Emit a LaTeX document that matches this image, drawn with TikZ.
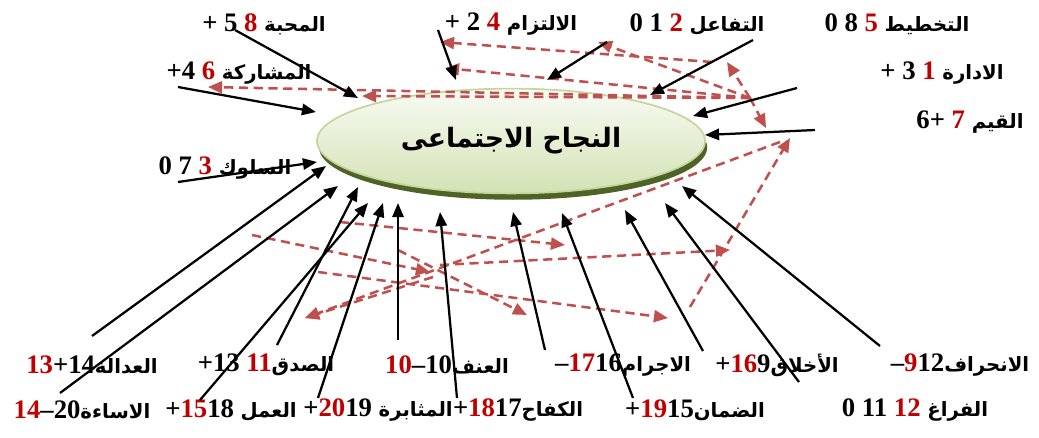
\documentclass[tikz,border=0pt]{standalone}
\usepackage{fontspec}
\setmainfont{Liberation Serif}
\newfontfamily\arfont[Script=Arabic]{DejaVu Sans}
\TeXXeTstate=1
\usetikzlibrary{positioning,arrows.meta,shapes.geometric,shadows}
\definecolor{numred}{HTML}{C00000}
\definecolor{dashred}{HTML}{C0504D}
\definecolor{lightgreen}{HTML}{C3D69B}
\definecolor{palegreen}{HTML}{D3E2B4}
\definecolor{olivedark}{HTML}{4F6228}
\newcommand{\arw}[1]{{\arfont\bfseries\fontsize{14}{16}\selectfont\beginR #1\endR}}
\newcommand{\rd}[1]{\textcolor{numred}{#1}}

\begin{document}
\begin{tikzpicture}[x=0.025cm,y=-0.025cm,
  lbl/.style={inner sep=0pt, font=\bfseries\fontsize{19}{22}\selectfont},
  blk/.style={line width=1.6pt, -{Triangle[length=10pt,width=8pt]}},
  rdd/.style={draw=dashred, line width=1.8pt, dash pattern=on 6.5pt off 4pt, -{Triangle[length=10pt,width=8.5pt]}}]
  \useasboundingbox (0,0) rectangle (1039,437);

  \node[ellipse, draw=lightgreen, line width=1.2pt, top color=white!85!palegreen, bottom color=palegreen,
    minimum width=9.7cm, minimum height=2.62cm,
    drop shadow={shadow xshift=1.5pt, shadow yshift=-4.5pt, fill=olivedark, opacity=1}]
    (goal) at (511,141) {\arfont\bfseries\fontsize{19}{22}\selectfont\beginR النجاح الاجتماعى\endR};

  \node[lbl] (lblMahaba) at (264,24) {+ 5 \rd{8} \arw{المحبة}};
  \node[lbl] (lblIltizam) at (511,24) {+ 2 \rd{4} \arw{الالتزام}};
  \node[lbl] (lblTafaul) at (697,24) {0 1 \rd{2} \arw{التفاعل}};
  \node[lbl] (lblTakhtit) at (897,24) {0 8 \rd{5} \arw{التخطيط}};
  \node[lbl] (lblMusharaka) at (239,73) {+4 \rd{6} \arw{المشاركة}};
  \node[lbl] (lblIdara) at (942,73) {+ 3 \rd{1} \arw{الادارة}};
  \node[lbl] (lblQiyam) at (970,122) {6+ \rd{7} \arw{القيم}};
  \node[lbl] (lblSuluk) at (225,168) {0 7 \rd{3} \arw{السلوك}};

  \node[lbl] (lblAdala) at (92,365) {\rd{13}+14\arw{العدالة}};
  \node[lbl] (lblSidq) at (266,365) {+13 \rd{11}\arw{الصدق}};
  \node[lbl] (lblUnf) at (447,365) {\rd{10}--10\arw{العنف}};
  \node[lbl] (lblIjram) at (623,365) {--\rd{17}16\arw{الاجرام}};
  \node[lbl] (lblAkhlaq) at (777,365) {+\rd{16}9\arw{الأخلاق}};
  \node[lbl] (lblInhiraf) at (960,365) {--\rd{9}12\arw{الانحراف}};
  \node[lbl] (lblIsaa) at (82,410) {\rd{14}--20\arw{الاساءة}};
  \node[lbl] (lblAmal) at (231,410) {+\rd{15}18 \arw{العمل}};
  \node[lbl] (lblMuthabara) at (378,410) {+\rd{20}19 \arw{المثابرة}};
  \node[lbl] (lblKifah) at (518,410) {+\rd{18}17\arw{الكفاح}};
  \node[lbl] (lblDaman) at (695,410) {+\rd{19}15\arw{الضمان}};
  \node[lbl] (lblFaragh) at (915,410) {0 11 \rd{12} \arw{الفراغ}};

  \coordinate (hub) at (750,98);
  \coordinate (hTopA) at (440,42);
  \coordinate (hTopB) at (445,68);
  \coordinate (hTopC) at (208,87);
  \coordinate (hTopD) at (598,42);
  \coordinate (hTopE) at (727,62);
  \coordinate (hTopF) at (766,128);
  \coordinate (hTopG) at (362,96);
  \coordinate (tTopA) at (712,62);
  \draw[rdd] (tTopA) -- (hTopA);
  \draw[rdd] (hub) -- (hTopB);
  \draw[rdd] (hub) -- (hTopC);
  \draw[rdd] (hub) -- (hTopD);
  \draw[rdd] (hub) -- (hTopE);
  \draw[rdd] (hub) -- (hTopF);
  \draw[rdd] (hub) -- (hTopG);

  \coordinate (tLowA) at (252,235);
  \coordinate (hLowA) at (430,272);
  \coordinate (tLowB) at (340,222);
  \coordinate (hLowB) at (565,245);
  \coordinate (tLowC) at (398,250);
  \coordinate (hLowC) at (527,315);
  \coordinate (tLowD) at (318,272);
  \coordinate (hLowD) at (668,318);
  \coordinate (tLowE) at (440,265);
  \coordinate (hLowE) at (730,250);
  \coordinate (tLowF) at (690,307);
  \coordinate (hLowF) at (790,138);
  \coordinate (tLowG) at (780,142);
  \coordinate (hLowG) at (305,318);
  \coordinate (tLowH) at (433,277);
  \draw[rdd] (tLowA) -- (hLowA);
  \draw[rdd] (tLowB) -- (hLowB);
  \draw[rdd] (tLowC) -- (hLowC);
  \draw[rdd] (tLowD) -- (hLowD);
  \draw[rdd] (tLowE) -- (hLowE);
  \draw[rdd] (tLowF) -- (hLowF);
  \draw[rdd] (tLowG) -- (hLowG);
  \draw[rdd] (tLowH) -- (hLowG);

  \coordinate (sMahaba) at (235,30);
  \coordinate (eMahaba) at (358,98);
  \coordinate (sMusharaka) at (178,87);
  \coordinate (eMusharaka) at (316,112);
  \coordinate (sIltizam) at (438,30);
  \coordinate (eIltizam) at (456,80);
  \coordinate (sTafaul) at (607,42);
  \coordinate (eTafaul) at (547,80);
  \coordinate (sTakhtit) at (753,40);
  \coordinate (eTakhtit) at (650,95);
  \coordinate (sIdara) at (797,88);
  \coordinate (eIdara) at (693,116);
  \coordinate (sQiyam) at (815,130);
  \coordinate (eQiyam) at (705,135);
  \coordinate (sSuluk) at (178,182);
  \coordinate (eSuluk) at (317,162);
  \draw[blk] (sMahaba) -- (eMahaba);
  \draw[blk] (sMusharaka) -- (eMusharaka);
  \draw[blk] (sIltizam) -- (eIltizam);
  \draw[blk] (sTafaul) -- (eTafaul);
  \draw[blk] (sTakhtit) -- (eTakhtit);
  \draw[blk] (sIdara) -- (eIdara);
  \draw[blk] (sQiyam) -- (eQiyam);
  \draw[blk] (sSuluk) -- (eSuluk);

  \coordinate (sAdala) at (92,336);
  \coordinate (eAdala) at (326,166);
  \coordinate (sIsaa) at (60,393);
  \coordinate (eIsaa) at (338,186);
  \coordinate (sAmal) at (200,400);
  \coordinate (eAmal) at (368,203);
  \coordinate (sSidq) at (277,345);
  \coordinate (eSidq) at (358,187);
  \coordinate (sMuthabara) at (318,398);
  \coordinate (eMuthabara) at (383,203);
  \coordinate (sUnf) at (398,340);
  \coordinate (eUnf) at (398,203);
  \coordinate (sKifah) at (457,398);
  \coordinate (eKifah) at (440,212);
  \coordinate (sIjram) at (545,350);
  \coordinate (eIjram) at (513,212);
  \coordinate (sDaman) at (633,398);
  \coordinate (eDaman) at (562,213);
  \coordinate (sAkhlaq) at (703,351);
  \coordinate (eAkhlaq) at (625,210);
  \coordinate (sFaragh) at (799,382);
  \coordinate (eFaragh) at (665,203);
  \coordinate (sInhiraf) at (880,346);
  \coordinate (eInhiraf) at (682,186);
  \draw[blk] (sAdala) -- (eAdala);
  \draw[blk] (sIsaa) -- (eIsaa);
  \draw[blk] (sAmal) -- (eAmal);
  \draw[blk] (sSidq) -- (eSidq);
  \draw[blk] (sMuthabara) -- (eMuthabara);
  \draw[blk] (sUnf) -- (eUnf);
  \draw[blk] (sKifah) -- (eKifah);
  \draw[blk] (sIjram) -- (eIjram);
  \draw[blk] (sDaman) -- (eDaman);
  \draw[blk] (sAkhlaq) -- (eAkhlaq);
  \draw[blk] (sFaragh) -- (eFaragh);
  \draw[blk] (sInhiraf) -- (eInhiraf);
\end{tikzpicture}
\end{document}
